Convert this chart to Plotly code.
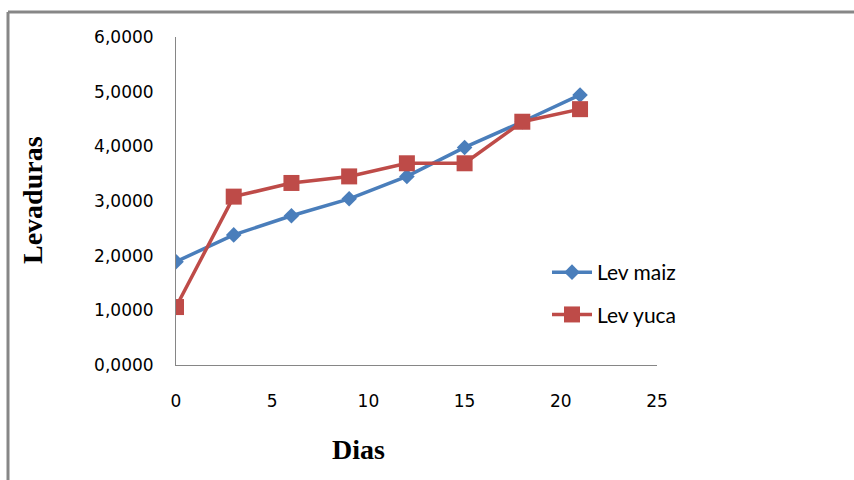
import plotly.graph_objects as go

# Days of sampling
dias = [0, 3, 6, 9, 12, 15, 18, 21]

# Yeast counts per substrate
lev_maiz = [1.89, 2.38, 2.73, 3.04, 3.45, 3.98, 4.45, 4.94]
lev_yuca = [1.06, 3.08, 3.33, 3.45, 3.69, 3.69, 4.45, 4.68]

y_ticks = [0, 1, 2, 3, 4, 5, 6]
y_tick_text = ["0,0000", "1,0000", "2,0000", "3,0000", "4,0000", "5,0000", "6,0000"]
x_ticks = [0, 5, 10, 15, 20, 25]

W, H = 854, 480
PL, PR, PT, PB = 176, 657, 37, 365  # plot area in pixels


def px(x):
    return (x - PL) / (PR - PL)


def py(y):
    return (PB - y) / (PB - PT)


BLUE = "#4A7EBB"
RED = "#BE4B48"
AXIS = "#868686"

fig = go.Figure()
fig.add_trace(go.Scatter(
    x=dias, y=lev_maiz, name="Lev maiz", mode="lines+markers",
    legendgroup="a",
    line=dict(color=BLUE, width=3.5),
    marker=dict(symbol="diamond", size=12, color=BLUE),
))
fig.add_trace(go.Scatter(
    x=dias, y=lev_yuca, name="Lev yuca", mode="lines+markers",
    legendgroup="b",
    line=dict(color=RED, width=3.5),
    marker=dict(symbol="square", size=16, color=RED),
))

fig.update_layout(
    width=W, height=H,
    margin=dict(l=PL, r=W - PR, t=PT, b=H - PB),
    paper_bgcolor="white", plot_bgcolor="white",
    showlegend=True,
    legend=dict(
        x=px(547), y=py(252), xanchor="left", yanchor="top",
        traceorder="grouped", tracegroupgap=12,
        font=dict(family="Lato", size=21, color="#000000"),
        bgcolor="rgba(0,0,0,0)", itemwidth=40,
    ),
    xaxis=dict(
        range=[0, 25], tickvals=x_ticks, showgrid=False, zeroline=False,
        showline=True, linecolor=AXIS, linewidth=1, ticks="",
        ticklabelstandoff=21,
        tickfont=dict(family="DejaVu Sans", size=17, color="#000000"),
    ),
    yaxis=dict(
        range=[0, 6], tickvals=y_ticks, ticktext=y_tick_text,
        showgrid=False, zeroline=False,
        showline=True, linecolor=AXIS, linewidth=1, ticks="",
        ticklabelstandoff=18,
        tickfont=dict(family="DejaVu Sans", size=17, color="#000000"),
    ),
    shapes=[
        dict(type="line", xref="paper", yref="paper",
             x0=px(8), y0=py(12), x1=px(W), y1=py(12),
             line=dict(color="#878787", width=3)),
        dict(type="line", xref="paper", yref="paper",
             x0=px(8), y0=py(12), x1=px(8), y1=py(H),
             line=dict(color="#878787", width=3)),
    ],
    annotations=[
        dict(text="<b>Levaduras</b>", xref="paper", yref="paper",
             x=px(32), y=py(200), textangle=-90, showarrow=False,
             xanchor="center", yanchor="middle",
             font=dict(family="Liberation Serif", size=28, color="#000000")),
        dict(text="<b>Dias</b>", xref="paper", yref="paper",
             x=px(358), y=py(449), showarrow=False,
             xanchor="center", yanchor="middle",
             font=dict(family="Liberation Serif", size=28, color="#000000")),
    ],
)

fig.write_html("out.html")
